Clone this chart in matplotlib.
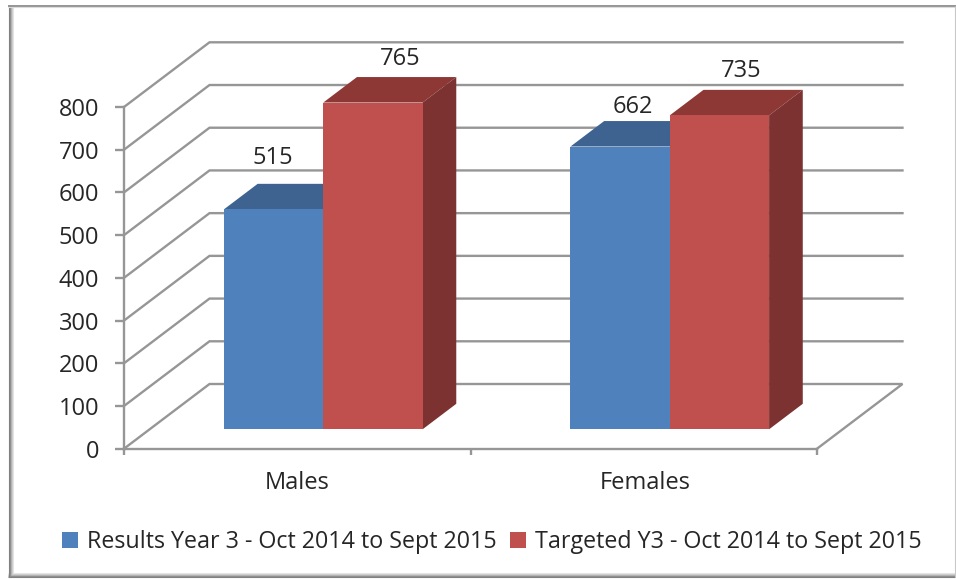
import matplotlib
matplotlib.use("Agg")
import matplotlib.pyplot as plt
from matplotlib.patches import Polygon, Patch
from matplotlib.lines import Line2D

categories = ["Males", "Females"]
results = [515, 662]
targeted = [765, 735]
series_names = ["Results Year 3 - Oct 2014 to Sept 2015",
                "Targeted Y3 - Oct 2014 to Sept 2015"]
y_ticks = [0, 100, 200, 300, 400, 500, 600, 700, 800]

W, H = 956, 580
plt.rcParams['font.family'] = ['Open Sans', 'DejaVu Sans']
TEXT = '#262626'
GRID = '#969696'
FONT = 17

fig = plt.figure(figsize=(W / 100, H / 100), dpi=100, facecolor='white')
L, R, T, B = 124, 817, 107, 448.7
ax = fig.add_axes([L / W, 1 - B / H, (R - L) / W, (B - T) / H])
ax.set_xlim(0, 2)
ax.set_ylim(0, 800)
ax.patch.set_alpha(0)

# pseudo-3D depth: one depth unit in axis units
PX_X = (R - L) / 2
PX_Y = (B - T) / 800
DX = 85.5 / PX_X
DY = 64.7 / PX_Y
D_FRONT = 0.30
D_BACK = 0.694
BAR_LEFT = 0.2145
BAR_W = 0.2866


def proj(x, v, d):
    return (x + d * DX, v + d * DY)


# gridlines: side wall and back wall
for v in y_ticks:
    if v == 0:
        pts = [proj(0, 0, 0), proj(0, 0, 1), proj(2, 0, 1), proj(2, 0, 0)]
    else:
        pts = [proj(0, v, 0), proj(0, v, 1), proj(2, v, 1)]
    xs, ys = zip(*pts)
    ax.plot(xs, ys, color=GRID, lw=1.7, clip_on=False, zorder=1,
            solid_joinstyle='miter')

FACES = [('#4F81BD', '#3F6391', '#3A5C87'), ('#C0504D', '#8E3836', '#7B3230')]
OFFSETS = [[(-1, 51.5), (27, 44), (13, 40), (22, 44)]]
z = 3
for i, cat in enumerate(categories):
    for j, vals in enumerate((results, targeted)):
        v = vals[i]
        x0 = i + BAR_LEFT + j * BAR_W
        x1 = x0 + BAR_W
        front, top, side = FACES[j]
        fx, base = proj(x0, 0, D_FRONT)
        ax.bar(fx, v, width=BAR_W, bottom=base, align='edge', color=front,
               linewidth=0, zorder=z + 2, clip_on=False)
        ax.add_patch(Polygon([proj(x0, v, D_FRONT), proj(x1, v, D_FRONT),
                              proj(x1, v, D_BACK), proj(x0, v, D_BACK)],
                             closed=True, fc=top, ec='none', zorder=z, clip_on=False))
        ax.add_patch(Polygon([proj(x1, 0, D_FRONT), proj(x1, 0, D_BACK),
                              proj(x1, v, D_BACK), proj(x1, v, D_FRONT)],
                             closed=True, fc=side, ec='none', zorder=z + 1, clip_on=False))
        off = OFFSETS[0][i * 2 + j]
        ax.annotate(str(v), xy=(fx + BAR_W / 2, v + base), xytext=(off[0] * 0.72, off[1] * 0.72),
                    textcoords='offset points', ha='center', va='center',
                    fontsize=FONT, color=TEXT, annotation_clip=False, zorder=20)
        z += 3

# axes
for s in ('top', 'right'):
    ax.spines[s].set_visible(False)
for s in ('left', 'bottom'):
    ax.spines[s].set_color(GRID)
    ax.spines[s].set_linewidth(1.7)
ax.set_yticks(y_ticks)
ax.set_yticklabels([str(t) for t in y_ticks], fontsize=FONT, color=TEXT)
ax.tick_params(axis='y', length=6.5, width=1.7, color=GRID, pad=11.5)
ax.set_xticks([0, 1, 2])
ax.set_xticklabels([])
ax.tick_params(axis='x', which='major', length=4.5, width=1.7, color=GRID)
ax.set_xticks([0.5, 1.505], minor=True)
ax.set_xticklabels(categories, minor=True, fontsize=FONT, color=TEXT)
ax.tick_params(axis='x', which='minor', length=0, pad=16)

# legend
handles = [Patch(fc=FACES[0][0], ec='none'), Patch(fc=FACES[1][0], ec='none')]
fig.legend(handles, series_names, ncol=2, frameon=False, fontsize=16.75,
           loc='center', bbox_to_anchor=(492 / W, 1 - 542 / H),
           handlelength=0.68, handleheight=0.68, handletextpad=0.4,
           columnspacing=0.55, labelcolor=TEXT, borderpad=0)


# outer frame with soft inner shadow
def fline(x0, y0, x1, y1, color, lw):
    fig.add_artist(Line2D([x0 / W, x1 / W], [1 - y0 / H, 1 - y1 / H], color=color, lw=lw,
                          solid_capstyle='butt'))


for k, c in enumerate(['#e6e6e6', '#cfcfcf', '#b5b5b5', '#8f8f8f', '#808080']):
    off = 4 - k
    fline(8 + off + 0.5, 6, 8 + off + 0.5, 577, c, 0.8)
    fline(8, 577 - off, 955, 577 - off, c, 0.8)
fline(8, 5.5, 956, 5.5, '#8c8c8c', 1.3)
fline(8, 7, 956, 7, '#dcdcdc', 0.8)
fline(955.3, 6, 955.3, 577, '#c8c8c8', 0.8)

fig.savefig('out.png', dpi=100, facecolor='white')
